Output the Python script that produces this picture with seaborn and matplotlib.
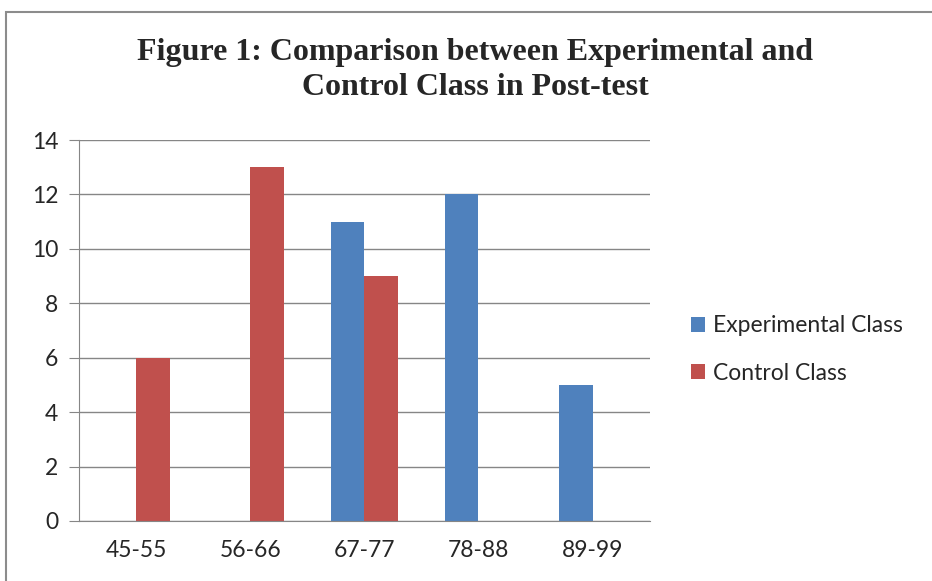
import matplotlib
matplotlib.use('Agg')
import matplotlib.pyplot as plt
import pandas as pd
import seaborn as sns
from matplotlib.patches import Rectangle

# data
categories   = ['45-55', '56-66', '67-77', '78-88', '89-99']
experimental = [0, 0, 11, 12, 5]
control      = [6, 13, 9, 0, 0]
series_names = ['Experimental Class', 'Control Class']

df = pd.DataFrame({
    'range': categories * 2,
    'count': experimental + control,
    'group': [series_names[0]] * 5 + [series_names[1]] * 5,
})

sns.set_style('white')
plt.rcParams['font.family'] = ['Lato', 'DejaVu Sans']

fig = plt.figure(figsize=(9.32, 5.81), dpi=100)
ax = fig.add_axes([0.0848, 0.1033, 0.6122, 0.6557])

sns.barplot(data=df, x='range', y='count', hue='group',
            palette=['#4F81BD', '#C0504D'], width=0.59,
            saturation=1, linewidth=0, ax=ax, legend=True)

ax.set_ylim(0, 14)
ax.set_yticks(range(0, 15, 2))
ax.set_xlim(-0.5, 4.5)
ax.grid(axis='y', color='#868686', linewidth=1)
ax.set_axisbelow(True)
for s in ['top', 'right']:
    ax.spines[s].set_visible(False)
ax.spines['left'].set_color('#868686')
ax.spines['bottom'].set_color('#868686')
ax.tick_params(axis='y', length=7, color='#868686', labelsize=16.5, pad=8, left=True)
ax.tick_params(axis='x', length=0, labelsize=16.5, pad=14)
ax.set_xlabel('')
ax.set_ylabel('')

leg = ax.legend(loc='center left', bbox_to_anchor=(1.037, 0.45), frameon=False,
                fontsize=16.5, handlelength=0.6, handleheight=0.6,
                handletextpad=0.35, labelspacing=1.15)

fig.text(0.51, 0.8795, 'Figure 1: Comparison between Experimental and\nControl Class in Post-test',
         ha='center', va='center', fontsize=23, fontweight='bold',
         family=['Liberation Serif', 'DejaVu Serif'], linespacing=1.3)

# outer chart border
fig.add_artist(Rectangle((6 / 932, -0.05), 1.2, 1 - 12 / 581 + 0.05,
                         transform=fig.transFigure, fill=False,
                         edgecolor='#8c8c8c', linewidth=1.5))

fig.savefig('out.png', dpi=100)
